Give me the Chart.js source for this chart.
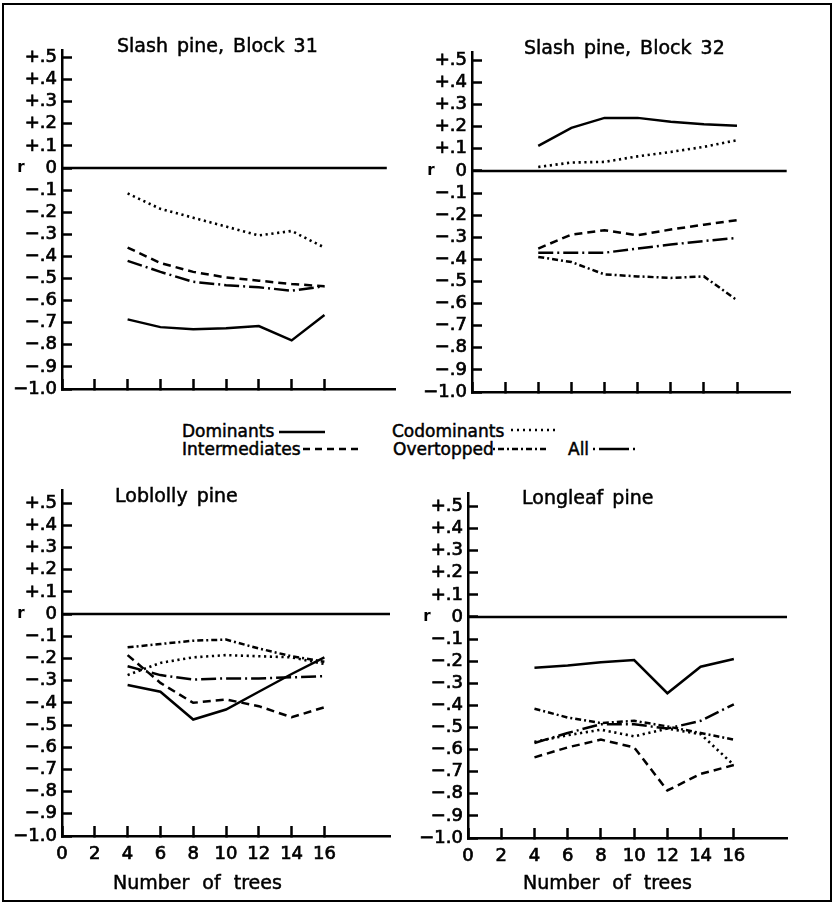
<!DOCTYPE html>
<html>
<head>
<meta charset="utf-8">
<script src="https://cdn.jsdelivr.net/npm/chart.js@4/dist/chart.umd.min.js"></script>
<style>
  html, body { margin: 0; padding: 0; background: #fff; }
  #page { position: relative; width: 835px; height: 904px; overflow: hidden;
          font-family: "DejaVu Sans", sans-serif; color: #000; }
  #frame { position: absolute; left: 2px; top: 3px; width: 830px; height: 899px;
           border: 2px solid #000; box-sizing: border-box; }
  canvas { position: absolute; }
  .txt { position: absolute; white-space: pre; line-height: 20px; -webkit-text-stroke: 0.5px #000; }
  .title { font-size: 19px; word-spacing: 3px; }
  .xlab { font-size: 19px; word-spacing: 7px; }
  .leg { font-size: 17px; }
  svg { position: absolute; left: 0; top: 0; }
</style>
</head>
<body>
<div id="page">
  <div id="frame"></div>

  <canvas id="c1" width="399" height="363" style="left:2px;top:46px"></canvas>
  <canvas id="c2" width="384" height="364" style="left:412px;top:48px"></canvas>
  <canvas id="c3" width="394" height="386" style="left:2px;top:486px"></canvas>
  <canvas id="c4" width="385" height="385" style="left:408px;top:489px"></canvas>

  <div class="txt title" style="left:117px;top:35px">Slash pine, Block 31</div>
  <div class="txt title" style="left:524px;top:37px">Slash pine, Block 32</div>
  <div class="txt title" style="left:115px;top:485px">Loblolly pine</div>
  <div class="txt title" style="left:522px;top:487px">Longleaf pine</div>

  <div class="txt xlab" style="left:113px;top:872px">Number of trees</div>
  <div class="txt xlab" style="left:523px;top:872px">Number of trees</div>

  <!-- key to the line styles -->
  <div class="txt leg" style="left:182px;top:421px">Dominants</div>
  <div class="txt leg" style="left:392px;top:421px">Codominants</div>
  <div class="txt leg" style="left:182px;top:439px">Intermediates</div>
  <div class="txt leg" style="left:393px;top:439px">Overtopped</div>
  <div class="txt leg" style="left:568px;top:439px">All</div>
  <svg width="835" height="904">
    <g stroke="#000" stroke-width="2.3" fill="none">
      <line x1="279" y1="432" x2="325" y2="432"/>
      <line x1="511" y1="430" x2="556" y2="430" stroke-dasharray="2 4"/>
      <line x1="303" y1="449" x2="362" y2="449" stroke-dasharray="7 5"/>
      <line x1="493" y1="449" x2="546" y2="449" stroke-dasharray="2 3 6 3"/>
      <line x1="593" y1="449" x2="638" y2="449" stroke-dasharray="2 4 30 4"/>
    </g>
  </svg>
</div>

<script>
// Number of trees in the sample (x positions of every series)
const treeCounts = [4, 6, 8, 10, 12, 14, 16];

// Axis ticks
const xTickValues = [0, 2, 4, 6, 8, 10, 12, 14, 16];
const xTickLabels = ['0', '2', '4', '6', '8', '10', '12', '14', '16'];
const yTickValues = [0.5, 0.4, 0.3, 0.2, 0.1, 0, -0.1, -0.2, -0.3, -0.4, -0.5, -0.6, -0.7, -0.8, -0.9, -1.0];
const yTickLabels = ['+.5', '+.4', '+.3', '+.2', '+.1', '0', '\u2212.1', '\u2212.2', '\u2212.3', '\u2212.4',
                     '\u2212.5', '\u2212.6', '\u2212.7', '\u2212.8', '\u2212.9', '\u22121.0'];

// Correlation coefficient r by crown class
// Slash pine, Block 31
const block31Dominants     = [-0.685, -0.72, -0.73, -0.725, -0.715, -0.78, -0.665];
const block31Codominants   = [-0.115, -0.185, -0.225, -0.265, -0.305, -0.285, -0.36];
const block31Intermediates = [-0.36, -0.43, -0.47, -0.495, -0.51, -0.525, -0.535];
const block31All           = [-0.42, -0.47, -0.515, -0.53, -0.54, -0.555, -0.535];

// Slash pine, Block 32
const block32Dominants     = [0.113, 0.195, 0.24, 0.24, 0.222, 0.211, 0.204];
const block32Codominants   = [0.018, 0.038, 0.041, 0.066, 0.086, 0.109, 0.139];
const block32Intermediates = [-0.351, -0.288, -0.268, -0.291, -0.265, -0.243, -0.223];
const block32Overtopped    = [-0.389, -0.412, -0.468, -0.477, -0.484, -0.477, -0.585];
const block32All           = [-0.37, -0.37, -0.37, -0.351, -0.333, -0.317, -0.303];

// Loblolly pine
const loblollyDominants     = [-0.32, -0.35, -0.475, -0.43, -0.35, -0.27, -0.195];
const loblollyCodominants   = [-0.275, -0.22, -0.195, -0.185, -0.19, -0.195, -0.225];
const loblollyIntermediates = [-0.185, -0.31, -0.40, -0.385, -0.415, -0.465, -0.42];
const loblollyOvertopped    = [-0.15, -0.135, -0.12, -0.115, -0.155, -0.19, -0.215];
const loblollyAll           = [-0.235, -0.275, -0.295, -0.29, -0.29, -0.285, -0.28];

// Longleaf pine
const longleafDominants     = [-0.23, -0.22, -0.205, -0.195, -0.345, -0.225, -0.19];
const longleafCodominants   = [-0.565, -0.535, -0.51, -0.54, -0.505, -0.53, -0.67];
const longleafIntermediates = [-0.635, -0.59, -0.555, -0.59, -0.785, -0.71, -0.67];
const longleafOvertopped    = [-0.415, -0.455, -0.48, -0.47, -0.495, -0.525, -0.555];
const longleafAll           = [-0.57, -0.525, -0.485, -0.485, -0.505, -0.47, -0.395];

// Line pattern for each crown class
const classStyle = {
  Dominants:     { dash: [],            width: 2.5 },
  Codominants:   { dash: [2.2, 3.6],    width: 2.6 },
  Intermediates: { dash: [8, 5],        width: 2.5 },
  Overtopped:    { dash: [6, 3, 2, 3],  width: 2.5 },
  All:           { dash: [15, 4, 2, 4], width: 2.5 }
};

function seriesDataset(name, values) {
  const st = classStyle[name];
  return {
    label: name,
    data: treeCounts.map((x, i) => ({ x: x, y: values[i] })),
    borderColor: '#000',
    borderWidth: st.width,
    borderDash: st.dash,
    borderCapStyle: 'butt',
    borderJoinStyle: 'miter',
    pointRadius: 0,
    tension: 0,
    fill: false
  };
}

function zeroLine(xEnd) {
  return {
    label: 'zero',
    data: [{ x: 0, y: 0 }, { x: xEnd, y: 0 }],
    borderColor: '#000',
    borderWidth: 2.5,
    pointRadius: 0,
    fill: false
  };
}

// the "r" beside the zero tick of each y axis
const rLabelPlugin = {
  id: 'rLabel',
  afterDraw(chart) {
    const ctx = chart.ctx;
    const y = chart.scales.y.getPixelForValue(0);
    ctx.save();
    ctx.fillStyle = '#000';
    ctx.font = 'bold 15px "DejaVu Sans"';
    ctx.textAlign = 'center';
    ctx.textBaseline = 'middle';
    ctx.fillText('r', chart.chartArea.left - 41, y);
    ctx.restore();
  }
};

// keep the plot area exactly where the layout puts it: no extra room for edge labels
function clearScalePadding(s) {
  s.paddingTop = 0;
  s.paddingBottom = 0;
  s.paddingLeft = 0;
  s.paddingRight = 0;
}

function makePanel(canvasId, datasets, opts) {
  const font = { family: 'DejaVu Sans', size: 18 };
  return new Chart(document.getElementById(canvasId), {
    type: 'line',
    data: { datasets: datasets },
    plugins: [rLabelPlugin],
    options: {
      responsive: false,
      animation: false,
      devicePixelRatio: 1,
      layout: { autoPadding: false, padding: { top: 4, right: 6, left: 0, bottom: 0 } },
      plugins: { legend: { display: false }, tooltip: { enabled: false }, title: { display: false } },
      scales: {
        x: {
          type: 'linear',
          min: 0,
          max: opts.xMax,
          afterBuildTicks: (s) => { s.ticks = xTickValues.map(v => ({ value: v })); },
          afterFit: (s) => { s.height = opts.showX ? 36 : 20; clearScalePadding(s); },
          grid: { drawOnChartArea: false, drawTicks: true, tickLength: -10, tickWidth: 2.5, tickColor: '#000' },
          border: { display: true, color: '#000', width: 2.5 },
          ticks: {
            display: true,
            autoSkip: false,
            maxRotation: 0,
            padding: 18,
            color: '#000',
            textStrokeColor: '#000',
            textStrokeWidth: 0.7,
            font: font,
            callback: (v, i) => opts.showX ? xTickLabels[i] : ''
          }
        },
        y: {
          type: 'linear',
          min: -1.0,
          max: opts.yMax,
          afterBuildTicks: (s) => { s.ticks = yTickValues.map(v => ({ value: v })); },
          afterFit: (s) => { s.width = 60; clearScalePadding(s); },
          grid: { drawOnChartArea: false, drawTicks: true, tickLength: -10, tickWidth: 2.5, tickColor: '#000' },
          border: { display: true, color: '#000', width: 2.5 },
          ticks: {
            autoSkip: false,
            padding: 15,
            color: '#000',
            textStrokeColor: '#000',
            textStrokeWidth: 0.7,
            font: font,
            callback: (v, i) => yTickLabels[i]
          }
        }
      }
    }
  });
}

makePanel('c1', [
  zeroLine(19.8),
  seriesDataset('Dominants', block31Dominants),
  seriesDataset('Codominants', block31Codominants),
  seriesDataset('Intermediates', block31Intermediates),
  seriesDataset('All', block31All)
], { xMax: 20.3, yMax: 0.534, showX: false });

makePanel('c2', [
  zeroLine(19.0),
  seriesDataset('Dominants', block32Dominants),
  seriesDataset('Codominants', block32Codominants),
  seriesDataset('Intermediates', block32Intermediates),
  seriesDataset('Overtopped', block32Overtopped),
  seriesDataset('All', block32All)
], { xMax: 19.2, yMax: 0.538, showX: false });

makePanel('c3', [
  zeroLine(20.0),
  seriesDataset('Dominants', loblollyDominants),
  seriesDataset('Codominants', loblollyCodominants),
  seriesDataset('Intermediates', loblollyIntermediates),
  seriesDataset('Overtopped', loblollyOvertopped),
  seriesDataset('All', loblollyAll)
], { xMax: 20.0, yMax: 0.559, showX: true });

makePanel('c4', [
  zeroLine(19.2),
  seriesDataset('Dominants', longleafDominants),
  seriesDataset('Codominants', longleafCodominants),
  seriesDataset('Intermediates', longleafIntermediates),
  seriesDataset('Overtopped', longleafOvertopped),
  seriesDataset('All', longleafAll)
], { xMax: 19.2, yMax: 0.561, showX: true });
</script>
</body>
</html>
